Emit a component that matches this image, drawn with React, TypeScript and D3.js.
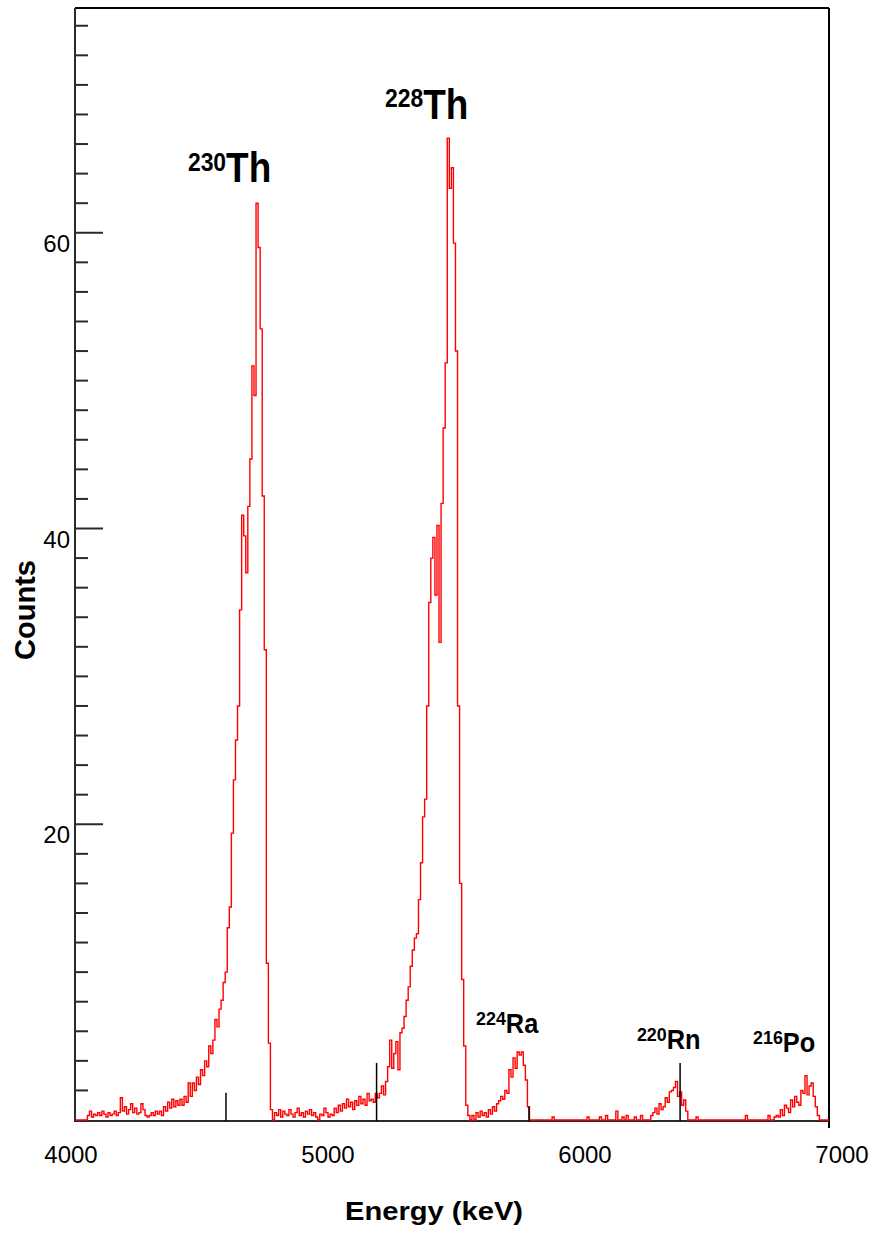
import React from "react";
import * as d3 from "d3";

const W = 874;
const H = 1235;

// Spectrum: counts per 8 keV bin starting at 4016 keV
const E_START = 4016;
const BIN_KEV = 8;

const countsLowTail230 = [
  0, 0, 0, 0, 0, 0, 0.3, 0.6, 0.2, 0.4, 0.3, 0.5, 0.3, 0.6, 0.4, 0.2,
  0.5, 0.3, 0.4, 0.6, 0.3, 0.5, 1.5, 0.6, 0.9, 0.4, 0.7, 1.1, 0.5, 0.8, 0.4,
  0.5, 1.1, 0.7, 0.3, 0.2, 0.3, 0.5, 0.3, 0.6, 0.4, 0.6, 0.3, 0.9, 0.6, 1.2,
  0.8, 1.4, 0.9, 1.3, 1.0, 1.4, 1.0, 1.6, 1.2, 2.5, 1.6, 2.5, 2.0, 2.9, 2.4,
  3.4, 3.0, 4.0, 3.6, 5.0, 4.5, 5.4, 6.8, 6.3, 7.5, 8.1, 9.3, 10.0, 13.0, 14.4,
];
const countsPeak230 = [
  19.4, 23.0, 25.7, 28.0, 34.5, 40.9, 39.5, 37.0, 41.5, 44.7,
  51.0, 49.0, 62.0, 59.0, 53.5, 42.2, 31.8, 10.6, 5.2, 0.7,
];
const countsGap1 = [
  0, 0.5, 0.3, 0.7, 0.2, 0.6, 0.4, 0.3, 0.7, 0.4, 0.2, 0.5, 0.8, 0.3, 0.5,
  0.2, 0.6, 0.4, 0.7, 0.3, 0.5, 0.2, 0, 0.4, 0.3, 0.8, 0.5, 0.2, 0.4, 0.3,
  0.8, 0.5, 1.0, 0.6, 1.1, 0.8, 1.4, 0.9, 1.2, 0.7, 1.3, 1.0, 1.6, 1.1, 1.4,
  1.0, 1.8, 1.3,
];
const countsPeak228 = [
  1.4, 1.2, 1.8, 1.5, 1.8, 2.3, 1.7, 2.6, 3.6, 5.4, 3.5, 4.5, 5.3, 3.4, 5.9,
  6.2, 7.0, 8.1, 9.0, 10.4, 11.5, 12.3, 12.6, 14.9, 17.4, 20.5, 21.7, 28.0,
  35.0, 38.0, 39.4, 35.5, 40.2, 32.3, 41.7, 46.8, 51.2, 66.4, 63.0, 64.4,
  59.3, 52.0, 28.0, 16.0, 9.5, 5.0, 1.0, 0.3,
];
const countsPeak224 = [
  0, 0.3, 0, 0.5, 0.2, 0.6, 0.3, 0.5, 0.2, 0.7, 0.4, 0.9, 0.6, 1.1, 1.3,
  1.6, 1.4, 2.0, 1.8, 3.4, 2.9, 4.2, 3.5, 4.6, 4.4, 4.6, 3.7, 2.7, 0.9, 0,
];
const countsGap2 = [
  0, 0, 0, 0, 0, 0, 0, 0, 0, 0,
  0.2, 0, 0, 0, 0, 0, 0, 0, 0, 0,
  0, 0, 0, 0, 0, 0, 0, 0.2, 0, 0,
  0, 0, 0, 0.2, 0, 0, 0.3, 0, 0, 0,
  0, 0.6, 0, 0, 0.2, 0, 0.3, 0, 0, 0,
  0.2, 0, 0, 0.3, 0, 0, 0,
];
const countsPeak220 = [
  0, 0.3, 0.5, 0.8, 0.4, 1.1, 0.7, 0.9, 1.5, 1.2,
  1.9, 2.0, 2.2, 2.6, 1.6, 1.9, 1.0, 1.35, 0.6, 0,
];
const countsGap3 = [
  0, 0, 0, 0.2, 0, 0, 0, 0, 0, 0,
  0, 0, 0, 0, 0, 0, 0, 0, 0, 0,
  0, 0, 0, 0, 0, 0, 0, 0.3, 0, 0,
  0, 0, 0, 0, 0, 0, 0, 0, 0.3,
];
const countsPeak216 = [
  0, 0, 0.2, 0.3, 0.2, 0.7, 0.3, 1.0, 0.8, 0.5, 1.35, 0.9, 1.6, 1.2, 1.0,
  2.0, 1.8, 3.0, 1.7, 2.3, 2.5, 1.6, 0.9, 0.3, 0, 0, 0, 0, 0,
];

const spectrum = [
  ...countsLowTail230,
  ...countsPeak230,
  ...countsGap1,
  ...countsPeak228,
  ...countsPeak224,
  ...countsGap2,
  ...countsPeak220,
  ...countsGap3,
  ...countsPeak216,
];

// Black reference markers
const markerEnergies = [4603, 5189, 5782, 6370];
const markerCounts = [1.85, 3.86, 0.9, 3.86];

// Axis ticks
const xTicks = [4000, 5000, 6000, 7000];
const yMajorTicks = [20, 40, 60];
const yMinorTicks = d3.range(2, 75, 2).filter((v) => v % 20 !== 0);

// Peak labels: mass number, element, anchor energy, anchor count, size
const labelMass = ["230", "228", "224", "220", "216"];
const labelElement = ["Th", "Th", "Ra", "Rn", "Po"];
const labelEnergy = [4455, 5222, 5576, 6202, 6654];
const labelCount = [63.4, 67.7, 5.9, 4.8, 4.6];
const labelBig = [true, true, false, false, false];

const FONT = "'Liberation Sans', Arial, Helvetica, sans-serif";

export default function App() {
  const x = d3.scaleLinear().domain([4000, 7000]).range([71, 842]);
  const y = d3.scaleLinear().domain([0, 75.2]).range([1120, 8]);

  const left = 75;
  const right = 829;
  const top = y(75.2);
  const bottom = 1121;

  const pts: [number, number][] = spectrum.map((c, i) => [E_START + i * BIN_KEV, c]);
  pts.push([E_START + spectrum.length * BIN_KEV, spectrum[spectrum.length - 1]]);

  const line = d3
    .line<[number, number]>()
    .x((d) => x(d[0]))
    .y((d) => y(d[1]))
    .curve(d3.curveStepAfter);

  const axisColor = "#2a2a2a";

  return (
    <svg
      width={W}
      height={H}
      viewBox={`0 0 ${W} ${H}`}
      style={{ position: "absolute", left: 0, top: 0, background: "#fff" }}
      fontFamily={FONT}
    >
      <defs>
        <clipPath id="plotClip">
          <rect x={left} y={0} width={right - left} height={bottom + 1} />
        </clipPath>
      </defs>

      {/* frame */}
      <line x1={left} x2={right} y1={top} y2={top} stroke="#000" strokeWidth={2} />
      <line x1={right} x2={right} y1={top} y2={bottom + 7} stroke="#000" strokeWidth={2} />
      <line x1={left} x2={right} y1={bottom} y2={bottom} stroke={axisColor} strokeWidth={2} />
      <line x1={left} x2={left} y1={top} y2={bottom + 1} stroke={axisColor} strokeWidth={2} />

      {/* y ticks */}
      {yMinorTicks.map((v) => (
        <line key={"mn" + v} x1={left} x2={left + 13} y1={y(v)} y2={y(v)} stroke={axisColor} strokeWidth={2} />
      ))}
      {yMajorTicks.map((v) => (
        <g key={"mj" + v}>
          <line x1={left} x2={left + 28} y1={y(v)} y2={y(v)} stroke={axisColor} strokeWidth={2} />
          <text x={70} y={y(v) + 19} textAnchor="end" fontSize={24} fill="#000">
            {v}
          </text>
        </g>
      ))}

      {/* x tick labels */}
      {xTicks.map((v) => (
        <text key={"xt" + v} x={x(v)} y={1163} textAnchor="middle" fontSize={24} fill="#000">
          {v}
        </text>
      ))}

      {/* spectrum */}
      <g clipPath="url(#plotClip)">
        <path d={line(pts) || ""} fill="none" stroke="#ff0000" strokeWidth={1.4} />
      </g>

      {/* markers */}
      {markerEnergies.map((e, i) => (
        <line
          key={"mk" + i}
          x1={x(e)}
          x2={x(e)}
          y1={y(0) + 1}
          y2={y(markerCounts[i])}
          stroke="#000"
          strokeWidth={1.5}
        />
      ))}

      {/* peak labels */}
      {labelMass.map((m, i) => {
        const big = labelBig[i];
        const supSize = big ? 26 : 19;
        const mainSize = big ? 42 : 27;
        const sx = big ? 0.88 : 0.94;
        const dy = big ? 11.6 : 8;
        return (
          <text
            key={"lb" + i}
            transform={`translate(${x(labelEnergy[i])},${y(labelCount[i])}) scale(${sx},1)`}
            fontWeight="bold"
            fill="#000"
          >
            <tspan fontSize={supSize} dy={-dy}>
              {m}
            </tspan>
            <tspan fontSize={mainSize} dy={dy}>
              {labelElement[i]}
            </tspan>
          </text>
        );
      })}

      {/* axis titles */}
      <text
        transform={`translate(35,610) rotate(-90)`}
        textAnchor="middle"
        fontSize={29}
        fontWeight="bold"
        fill="#000"
      >
        Counts
      </text>
      <text
        x={434}
        y={1220}
        textAnchor="middle"
        fontSize={26}
        fontWeight="bold"
        fill="#000"
        textLength={178}
        lengthAdjust="spacingAndGlyphs"
      >
        Energy (keV)
      </text>
    </svg>
  );
}
